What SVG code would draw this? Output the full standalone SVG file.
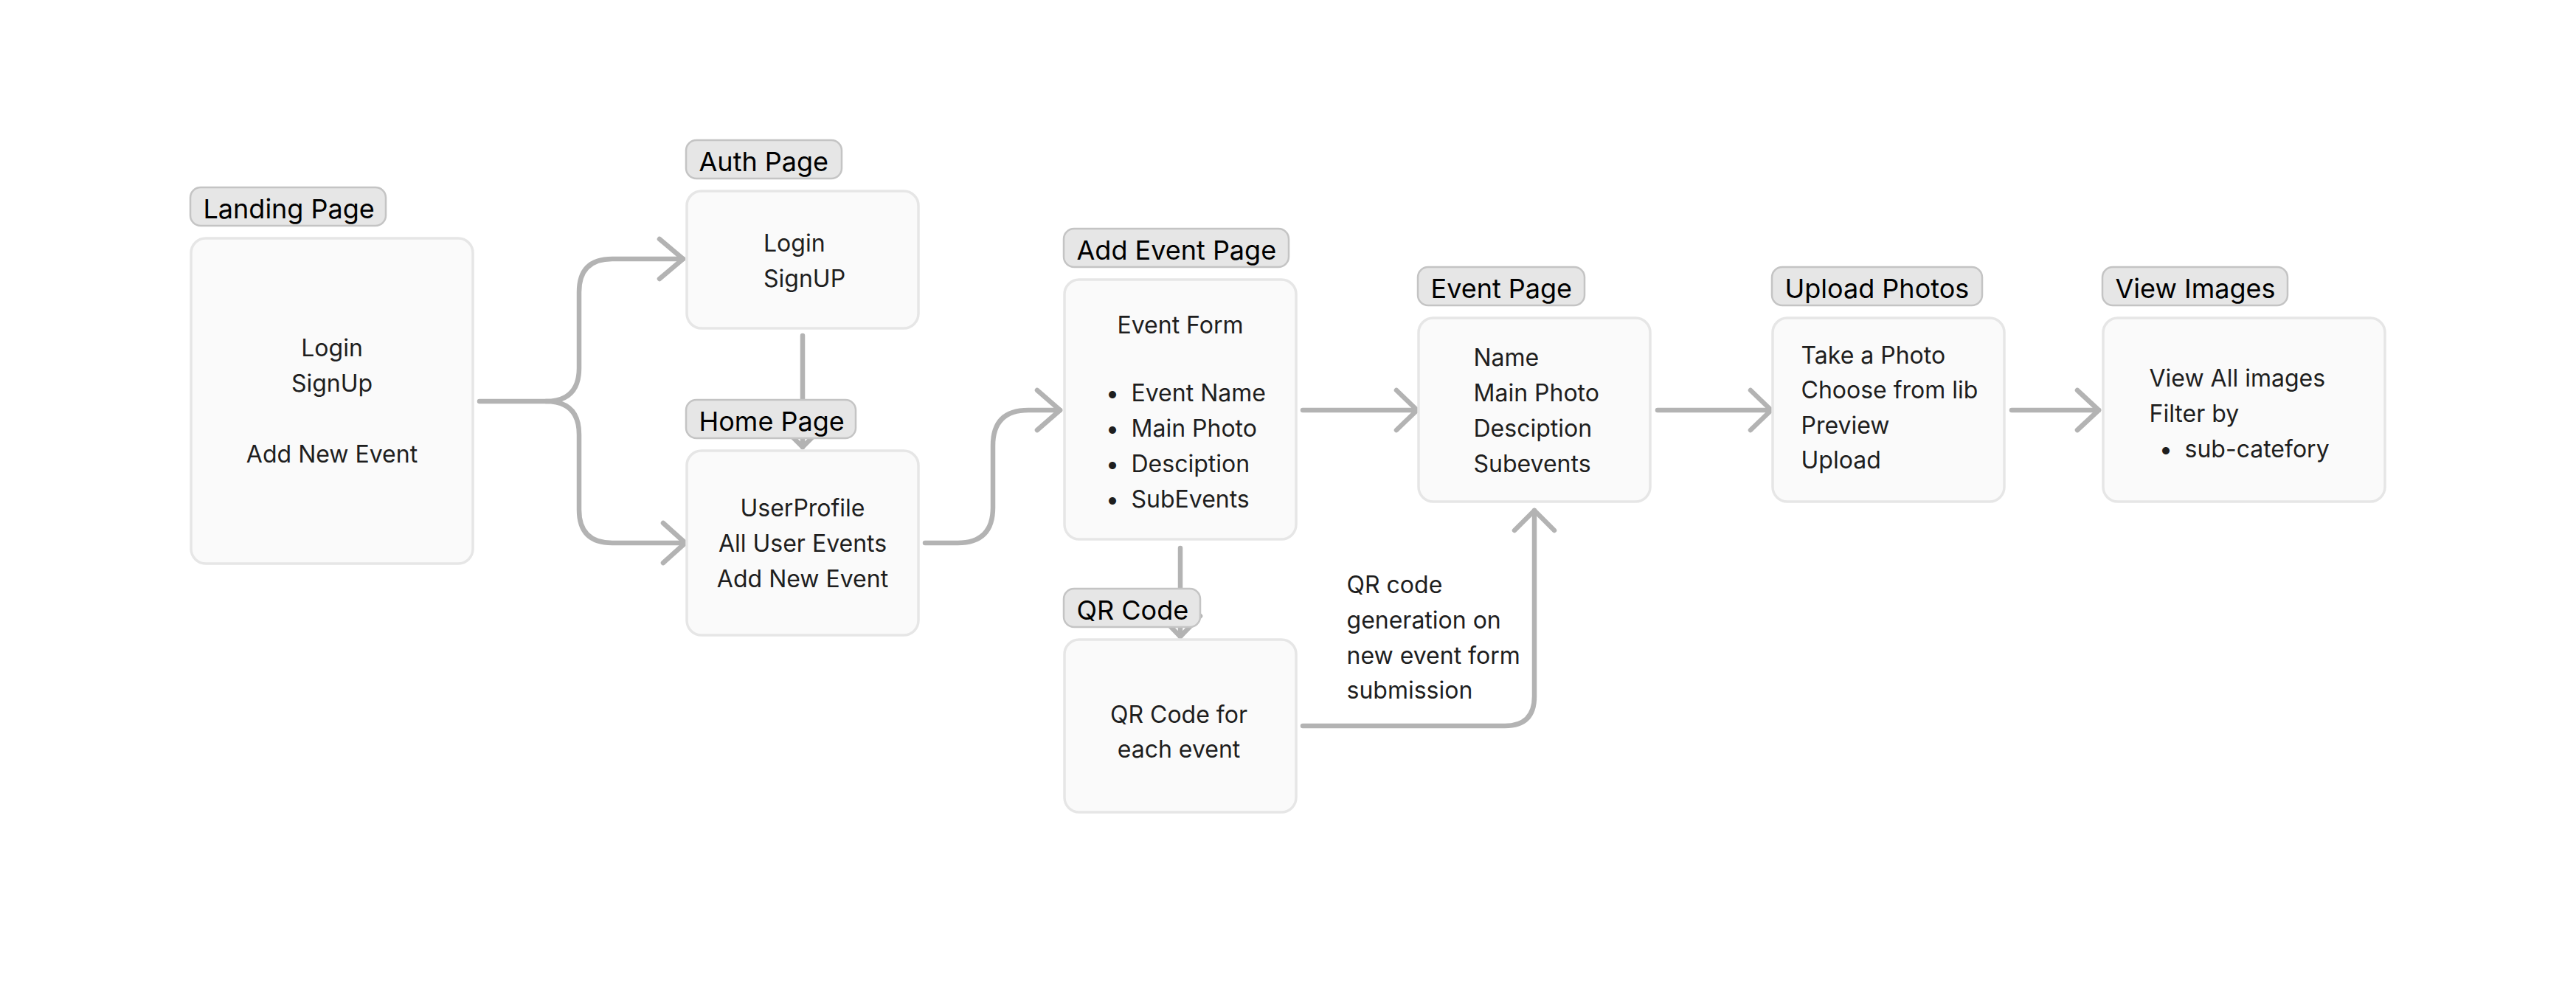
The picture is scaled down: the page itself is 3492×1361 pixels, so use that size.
<svg xmlns="http://www.w3.org/2000/svg" width="3492" height="1361" viewBox="0 0 3492 1361">
<style>
.bg{fill:#ffffff}
.box{fill:#fafafa;stroke:#e6e6e6;stroke-width:3.5}
.lab{fill:#e6e6e6;stroke:#c4c4c4;stroke-width:2.5}
.lt{font-family:Inter,"Noto Sans",sans-serif;font-size:36px;fill:#000000}
.t{font-family:Inter,"Noto Sans",sans-serif;font-size:32px;fill:#1e1e1e}
.c{text-anchor:middle}
.conn{fill:none;stroke:#b3b3b3;stroke-width:6.5;stroke-linecap:round;stroke-linejoin:round}
</style>
<rect class="bg" x="0" y="0" width="3492" height="1361"/>
<g id="connectors">
  <path class="conn" d="M650,544 H740 Q785,544 785,499 V396 Q785,351 830,351 H926"/>
  <path class="conn" d="M894,324 L926,351 L894,378"/>
  <path class="conn" d="M740,544 Q785,544 785,589 V691 Q785,736 830,736 H929"/>
  <path class="conn" d="M899,709 L929,736 L899,763"/>
  <path class="conn" d="M1088,455 V606"/>
  <path class="conn" d="M1061,579 L1088,606 L1115,579"/>
  <path class="conn" d="M1254,736 H1298 Q1346,736 1346,688 V604 Q1346,556 1394,556 H1437"/>
  <path class="conn" d="M1406,529 L1437,556 L1406,583"/>
  <path class="conn" d="M1766,556 H1921"/>
  <path class="conn" d="M1893,529 L1921,556 L1893,583"/>
  <path class="conn" d="M2247,556 H2401"/>
  <path class="conn" d="M2373,529 L2401,556 L2373,583"/>
  <path class="conn" d="M2727,556 H2845"/>
  <path class="conn" d="M2816,529 L2845,556 L2816,583"/>
  <path class="conn" d="M1600,743 V863"/>
  <path class="conn" d="M1573,835 L1600,863 L1627,835"/>
  <path class="conn" d="M1766,984 H2040 Q2080,984 2080,944 V692"/>
  <path class="conn" d="M2053,719 L2080,692 L2107,719"/>
</g>
<g id="landing-page">
  <rect class="lab" x="258" y="254" width="265" height="52" rx="14"/>
  <text class="lt" x="275.5" y="295.5">Landing Page</text>
  <rect class="box" x="259" y="323" width="382" height="441" rx="20"/>
  <text class="t c" x="450" y="483">Login</text>
  <text class="t c" x="450" y="531">SignUp</text>
  <text class="t c" x="450" y="627">Add New Event</text>
</g>
<g id="auth-page">
  <rect class="lab" x="930" y="190" width="211" height="52" rx="14"/>
  <text class="lt" x="947.5" y="232">Auth Page</text>
  <rect class="box" x="931" y="259" width="314" height="186" rx="20"/>
  <text class="t" x="1035" y="341">Login</text>
  <text class="t" x="1035" y="389">SignUP</text>
</g>
<g id="home-page">
  <rect class="lab" x="930" y="542" width="230" height="52" rx="14"/>
  <text class="lt" x="947.5" y="583.5">Home Page</text>
  <rect class="box" x="931" y="611" width="314" height="250" rx="20"/>
  <text class="t c" x="1088" y="699.5">UserProfile</text>
  <text class="t c" x="1088" y="747.5">All User Events</text>
  <text class="t c" x="1088" y="795.5">Add New Event</text>
</g>
<g id="add-event-page">
  <rect class="lab" x="1442" y="310" width="305" height="52" rx="14"/>
  <text class="lt" x="1459.5" y="351.5">Add Event Page</text>
  <rect class="box" x="1443" y="379" width="314" height="352" rx="20"/>
  <text class="t c" x="1600" y="451.5">Event Form</text>
  <text class="t c" x="1508" y="544">•</text>
  <text class="t" x="1533.5" y="544">Event Name</text>
  <text class="t c" x="1508" y="592">•</text>
  <text class="t" x="1533.5" y="592">Main Photo</text>
  <text class="t c" x="1508" y="640">•</text>
  <text class="t" x="1533.5" y="640">Desciption</text>
  <text class="t c" x="1508" y="687.5">•</text>
  <text class="t" x="1533.5" y="687.5">SubEvents</text>
</g>
<g id="qr-code">
  <rect class="lab" x="1442" y="798" width="185" height="52" rx="14"/>
  <text class="lt" x="1459.5" y="839.5">QR Code</text>
  <rect class="box" x="1443" y="867" width="314" height="234" rx="20"/>
  <text class="t c" x="1598" y="979.5">QR Code for</text>
  <text class="t c" x="1598" y="1027">each event</text>
</g>
<g id="qr-label">
  <text class="t" x="1825.5" y="803.5">QR code</text>
  <text class="t" x="1825.5" y="851.5">generation on</text>
  <text class="t" x="1825.5" y="899.5">new event form</text>
  <text class="t" x="1825.5" y="947">submission</text>
</g>
<g id="event-page">
  <rect class="lab" x="1922" y="362" width="226" height="52" rx="14"/>
  <text class="lt" x="1939.5" y="403.5">Event Page</text>
  <rect class="box" x="1923" y="431" width="314" height="249" rx="20"/>
  <text class="t" x="1997.5" y="495.5">Name</text>
  <text class="t" x="1997.5" y="543.5">Main Photo</text>
  <text class="t" x="1997.5" y="591.5">Desciption</text>
  <text class="t" x="1997.5" y="639.5">Subevents</text>
</g>
<g id="upload-photos">
  <rect class="lab" x="2402" y="362" width="285" height="52" rx="14"/>
  <text class="lt" x="2419.5" y="403.5">Upload Photos</text>
  <rect class="box" x="2403" y="431" width="314" height="249" rx="20"/>
  <text class="t" x="2441.5" y="492.5">Take a Photo</text>
  <text class="t" x="2441.5" y="540">Choose from lib</text>
  <text class="t" x="2441.5" y="587.5">Preview</text>
  <text class="t" x="2441.5" y="635">Upload</text>
</g>
<g id="view-images">
  <rect class="lab" x="2850" y="362" width="251" height="52" rx="14"/>
  <text class="lt" x="2867.5" y="403.5">View Images</text>
  <rect class="box" x="2851" y="431" width="382" height="249" rx="20"/>
  <text class="t" x="2913.5" y="523.5">View All images</text>
  <text class="t" x="2913.5" y="571.5">Filter by</text>
  <text class="t c" x="2936" y="619.5">•</text>
  <text class="t" x="2961.5" y="619.5">sub-catefory</text>
</g>
</svg>
